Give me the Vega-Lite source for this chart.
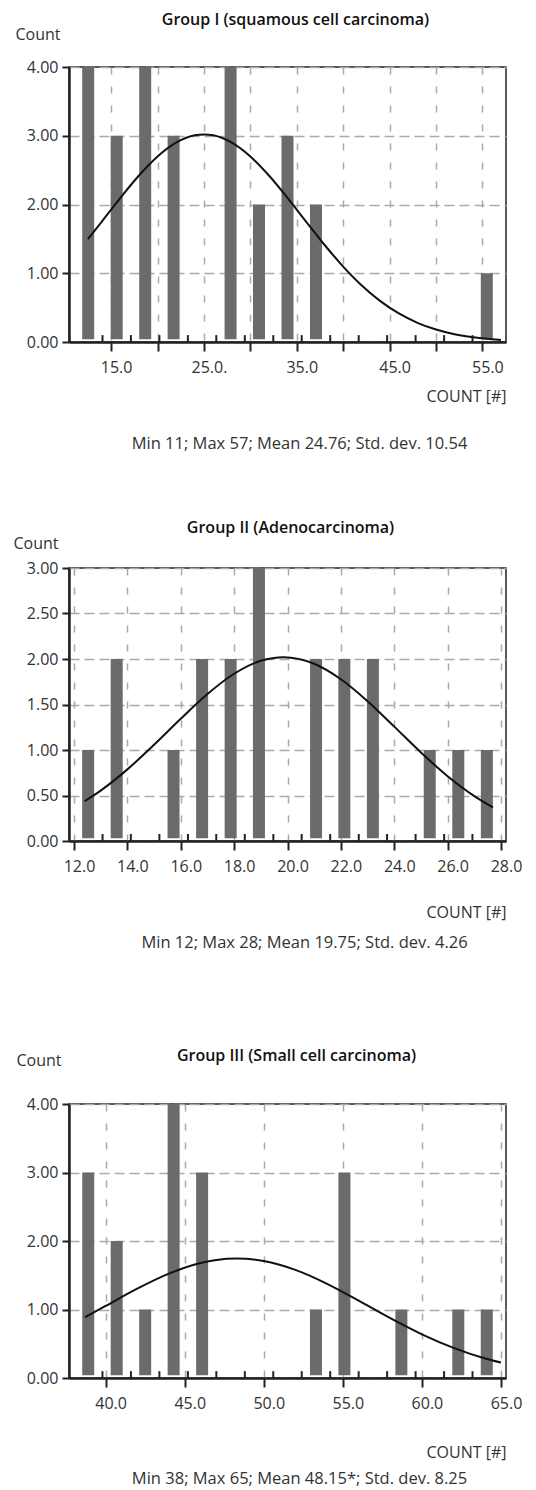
{
  "$schema": "https://vega.github.io/schema/vega-lite/v6.json",
  "padding": {"left": 12, "top": 10, "right": 5, "bottom": 0},
  "spacing": 93,
  "datasets": {
    "bars1": [
      {"x": 12.53, "count": 4}, {"x": 15.6, "count": 3}, {"x": 18.67, "count": 4}, {"x": 21.73, "count": 3},
      {"x": 27.87, "count": 4}, {"x": 30.93, "count": 2}, {"x": 34.0, "count": 3}, {"x": 37.07, "count": 2},
      {"x": 55.47, "count": 1}
    ],
    "edges1": [
      {"x": 14.07}, {"x": 17.13}, {"x": 20.2}, {"x": 23.27}, {"x": 26.33}, {"x": 29.4}, {"x": 32.47},
      {"x": 35.53}, {"x": 38.6}, {"x": 41.67}, {"x": 44.73}, {"x": 47.8}, {"x": 50.87}, {"x": 53.93}
    ],
    "curve1": [
      {"x": 12.5, "y": 1.495}, {"x": 14, "y": 1.752}, {"x": 16, "y": 2.097}, {"x": 18, "y": 2.422},
      {"x": 20, "y": 2.699}, {"x": 22, "y": 2.9}, {"x": 24, "y": 3.006}, {"x": 25, "y": 3.02},
      {"x": 26, "y": 3.006}, {"x": 28, "y": 2.9}, {"x": 30, "y": 2.699}, {"x": 32, "y": 2.422},
      {"x": 34, "y": 2.097}, {"x": 36, "y": 1.752}, {"x": 38, "y": 1.411}, {"x": 40, "y": 1.097},
      {"x": 42, "y": 0.822}, {"x": 44, "y": 0.595}, {"x": 46, "y": 0.415}, {"x": 48, "y": 0.279},
      {"x": 50, "y": 0.181}, {"x": 52, "y": 0.113}, {"x": 54, "y": 0.069}, {"x": 56, "y": 0.04},
      {"x": 57, "y": 0.03}
    ],
    "bars2": [
      {"x": 12.53, "count": 1}, {"x": 13.6, "count": 2}, {"x": 15.73, "count": 1}, {"x": 16.8, "count": 2},
      {"x": 17.87, "count": 2}, {"x": 18.93, "count": 3}, {"x": 21.07, "count": 2}, {"x": 22.13, "count": 2},
      {"x": 23.2, "count": 2}, {"x": 25.33, "count": 1}, {"x": 26.4, "count": 1}, {"x": 27.47, "count": 1}
    ],
    "edges2": [
      {"x": 13.07}, {"x": 14.13}, {"x": 15.2}, {"x": 16.27}, {"x": 17.33}, {"x": 18.4}, {"x": 19.47},
      {"x": 20.53}, {"x": 21.6}, {"x": 22.67}, {"x": 23.73}, {"x": 24.8}, {"x": 25.87}, {"x": 26.93}
    ],
    "curve2": [
      {"x": 12.4, "y": 0.438}, {"x": 13, "y": 0.554}, {"x": 14, "y": 0.787}, {"x": 15, "y": 1.057},
      {"x": 16, "y": 1.343}, {"x": 17, "y": 1.615}, {"x": 18, "y": 1.838}, {"x": 19, "y": 1.98},
      {"x": 19.85, "y": 2.02}, {"x": 21, "y": 1.948}, {"x": 22, "y": 1.778}, {"x": 23, "y": 1.537},
      {"x": 24, "y": 1.257}, {"x": 25, "y": 0.973}, {"x": 26, "y": 0.712}, {"x": 27, "y": 0.494},
      {"x": 27.7, "y": 0.37}
    ],
    "bars3": [
      {"x": 38.9, "count": 3}, {"x": 40.7, "count": 2}, {"x": 42.5, "count": 1}, {"x": 44.3, "count": 4},
      {"x": 46.1, "count": 3}, {"x": 53.3, "count": 1}, {"x": 55.1, "count": 3}, {"x": 58.7, "count": 1},
      {"x": 62.3, "count": 1}, {"x": 64.1, "count": 1}
    ],
    "edges3": [
      {"x": 39.8}, {"x": 41.6}, {"x": 43.4}, {"x": 45.2}, {"x": 47}, {"x": 48.8}, {"x": 50.6},
      {"x": 52.4}, {"x": 54.2}, {"x": 56}, {"x": 57.8}, {"x": 59.6}, {"x": 61.4}, {"x": 63.2}
    ],
    "curve3": [
      {"x": 38.7, "y": 0.887}, {"x": 40, "y": 1.052}, {"x": 42, "y": 1.304}, {"x": 44, "y": 1.523},
      {"x": 46, "y": 1.679}, {"x": 47, "y": 1.724}, {"x": 48.3, "y": 1.745}, {"x": 50, "y": 1.708},
      {"x": 52, "y": 1.578}, {"x": 54, "y": 1.375}, {"x": 56, "y": 1.129}, {"x": 58, "y": 0.874},
      {"x": 60, "y": 0.638}, {"x": 62, "y": 0.44}, {"x": 64, "y": 0.285}, {"x": 65, "y": 0.225}
    ]
  },
  "vconcat": [
    {
      "spacing": 64,
      "vconcat": [
        {
          "width": 437,
          "height": 275,
          "title": {"text": "Min 11; Max 57; Mean 24.76; Std. dev. 10.54", "orient": "bottom", "anchor": "middle", "frame": "group", "dx": 12, "offset": 32},
          "resolve": {"axis": {"x": "independent"}},
          "layer": [
            {
              "data": {"name": "bars1"},
              "mark": {"type": "bar", "size": 12, "color": "#6b6b6b"},
              "encoding": {
                "x": {"field": "x", "type": "quantitative", "scale": {"domain": [11, 57], "nice": false, "zero": false},
                  "axis": {"orient": "bottom", "values": [15, 20, 25, 30, 35, 40, 45, 50, 55],
                    "labelExpr": "(datum.value - 15) % 10 == 0 ? (datum.value == 25 ? '25.0.' : format(datum.value, '.1f')) : ''",
                    "title": "COUNT [#]", "titleX": 437, "titleY": 54, "titleAlign": "right", "titleBaseline": "middle",
                    "gridDash": [7, 12]}},
                "y": {"field": "count", "type": "quantitative", "scale": {"domain": [0, 4], "nice": false},
                  "axis": {"orient": "left", "values": [0, 0.5, 1, 1.5, 2, 2.5, 3, 3.5, 4],
                    "labelExpr": "datum.value % 1 == 0 ? format(datum.value, '.2f') : ''",
                    "title": "Count", "titleX": -54, "titleY": -33}},
                "y2": {"datum": 0.04}
              }
            },
            {
              "data": {"name": "edges1"},
              "mark": {"type": "rule", "color": "#222", "strokeWidth": 2},
              "encoding": {
                "x": {"field": "x", "type": "quantitative", "axis": null},
                "y": {"datum": 0},
                "y2": {"datum": 0.1}
              }
            },
            {
              "data": {"name": "curve1"},
              "mark": {"type": "line", "color": "#111", "strokeWidth": 2, "interpolate": "monotone"},
              "encoding": {
                "x": {"field": "x", "type": "quantitative",
                  "axis": {"orient": "top", "labels": false, "ticks": false, "domain": false, "grid": false,
                    "title": "Group I (squamous cell carcinoma)", "titleX": 226, "titlePadding": 40,
                    "titleAlign": "center", "titleAngle": 0, "titleBaseline": "bottom", "titleFontSize": 16, "titleFontWeight": 600, "titleColor": "#111"}},
                "y": {"field": "y", "type": "quantitative"}
              }
            }
          ]
        },
        {
          "width": 437,
          "height": 273,
          "title": {"text": "Min 12; Max 28; Mean 19.75; Std. dev. 4.26", "orient": "bottom", "anchor": "middle", "frame": "group", "dx": 17, "offset": 15},
          "resolve": {"axis": {"x": "independent"}},
          "layer": [
            {
              "data": {"name": "bars2"},
              "mark": {"type": "bar", "size": 12, "color": "#6b6b6b"},
              "encoding": {
                "x": {"field": "x", "type": "quantitative", "scale": {"domain": [12, 28], "nice": false, "zero": false},
                  "axis": {"orient": "bottom", "values": [12, 14, 16, 18, 20, 22, 24, 26, 28], "format": ".1f",
                    "title": "COUNT [#]", "titleX": 437, "titleY": 71, "titleAlign": "right", "titleBaseline": "middle",
                    "gridDash": [7, 12]}},
                "y": {"field": "count", "type": "quantitative", "scale": {"domain": [0, 3], "nice": false},
                  "axis": {"orient": "left", "values": [0, 0.5, 1, 1.5, 2, 2.5, 3], "format": ".2f",
                    "title": "Count", "titleX": -56, "titleY": -25}},
                "y2": {"datum": 0.03}
              }
            },
            {
              "data": {"name": "edges2"},
              "mark": {"type": "rule", "color": "#222", "strokeWidth": 2},
              "encoding": {
                "x": {"field": "x", "type": "quantitative", "axis": null},
                "y": {"datum": 0},
                "y2": {"datum": 0.077}
              }
            },
            {
              "data": {"name": "curve2"},
              "mark": {"type": "line", "color": "#111", "strokeWidth": 2, "interpolate": "monotone"},
              "encoding": {
                "x": {"field": "x", "type": "quantitative",
                  "axis": {"orient": "top", "labels": false, "ticks": false, "domain": false, "grid": false,
                    "title": "Group II (Adenocarcinoma)", "titleX": 221, "titlePadding": 33,
                    "titleAlign": "center", "titleAngle": 0, "titleBaseline": "bottom", "titleFontSize": 16, "titleFontWeight": 600, "titleColor": "#111"}},
                "y": {"field": "y", "type": "quantitative"}
              }
            }
          ]
        }
      ]
    },
    {
      "width": 437,
      "height": 274,
      "title": {"text": "Min 38; Max 65; Mean 48.15*; Std. dev. 8.25", "orient": "bottom", "anchor": "middle", "frame": "group", "dx": 12, "offset": 11},
      "resolve": {"axis": {"x": "independent"}},
      "layer": [
        {
          "data": {"name": "bars3"},
          "mark": {"type": "bar", "size": 12, "color": "#6b6b6b"},
          "encoding": {
            "x": {"field": "x", "type": "quantitative", "scale": {"domain": [38, 65], "nice": false, "zero": false},
              "axis": {"orient": "bottom", "values": [40, 45, 50, 55, 60, 65], "format": ".1f",
                "title": "COUNT [#]", "titleX": 437, "titleY": 74, "titleAlign": "right", "titleBaseline": "middle",
                "gridDash": [7, 12]}},
            "y": {"field": "count", "type": "quantitative", "scale": {"domain": [0, 4], "nice": false},
              "axis": {"orient": "left", "values": [0, 0.5, 1, 1.5, 2, 2.5, 3, 3.5, 4],
                "labelExpr": "datum.value % 1 == 0 ? format(datum.value, '.2f') : ''",
                "title": "Count", "titleX": -53, "titleY": -44}},
            "y2": {"datum": 0.04}
          }
        },
        {
          "data": {"name": "edges3"},
          "mark": {"type": "rule", "color": "#222", "strokeWidth": 2},
          "encoding": {
            "x": {"field": "x", "type": "quantitative", "axis": null},
            "y": {"datum": 0},
            "y2": {"datum": 0.1}
          }
        },
        {
          "data": {"name": "curve3"},
          "mark": {"type": "line", "color": "#111", "strokeWidth": 2, "interpolate": "monotone"},
          "encoding": {
            "x": {"field": "x", "type": "quantitative",
              "axis": {"orient": "top", "labels": false, "ticks": false, "domain": false, "grid": false,
                "title": "Group III (Small cell carcinoma)", "titleX": 227, "titlePadding": 41,
                "titleAlign": "center", "titleAngle": 0, "titleBaseline": "bottom", "titleFontSize": 16, "titleFontWeight": 600, "titleColor": "#111"}},
            "y": {"field": "y", "type": "quantitative"}
          }
        }
      ]
    }
  ],
  "config": {
    "font": "Open Sans",
    "view": {"stroke": "#222", "strokeWidth": 1.5},
    "title": {"fontSize": 16.5, "fontWeight": "normal", "color": "#333", "font": "Open Sans"},
    "axis": {
      "labelFont": "Open Sans", "labelFontSize": 16, "labelColor": "#333",
      "labelFlush": false, "labelOverlap": false,
      "titleFont": "Open Sans", "titleFontSize": 16, "titleFontWeight": "normal", "titleColor": "#333",
      "domainColor": "#222", "domainWidth": 2.5,
      "tickColor": "#222", "tickWidth": 2,
      "grid": true, "gridColor": "#aaa", "gridWidth": 1.5
    },
    "axisX": {"tickSize": 9, "labelPadding": 8, "labelOffset": 5},
    "axisY": {"tickSize": 7, "labelPadding": 4, "gridDash": [10, 5], "titleAngle": 0, "titleAlign": "left", "titleBaseline": "middle"}
  }
}
